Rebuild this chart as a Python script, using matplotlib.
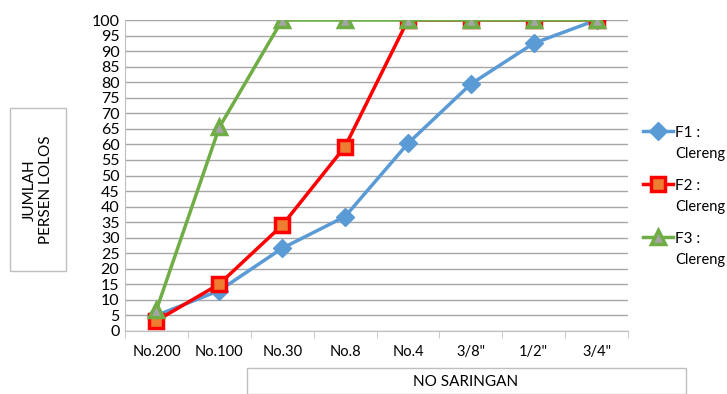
import matplotlib
matplotlib.use("Agg")
import matplotlib.pyplot as plt
from matplotlib.patches import Rectangle

# nomor saringan dan persen lolos tiap campuran
saringan = ["No.200", "No.100", "No.30", "No.8", "No.4", '3/8"', '1/2"', '3/4"']
f1 = [5, 13, 26.6, 36.8, 60.3, 79.4, 92.5, 100]
f2 = [3.3, 15.1, 34, 59.3, 100, 100, 100, 100]
f3 = [6.8, 65.5, 100, 100, 100, 100, 100, 100]
label_seri = ["F1 :", "F2 :", "F3 :"]
nama_seri = "Clereng"
yticks = list(range(0, 101, 5))

plt.rcParams["font.family"] = ["Lato", "DejaVu Sans"]

fig = plt.figure(figsize=(7.27, 3.94), dpi=100)
ax = fig.add_axes([125 / 727, 1 - 331 / 394, 503 / 727, 311 / 394])

x = list(range(len(saringan)))
ax.plot(x, f1, color="#5b9bd5", lw=2.5, marker="D", ms=9,
        mfc="#5b9bd5", mec="#5b9bd5", label=label_seri[0], zorder=3)
ax.plot(x, f2, color="#ff0000", lw=2.5, marker="s", ms=10, mew=2.5,
        mfc="#ed7d31", mec="#ff0000", label=label_seri[1], zorder=4)
ax.plot(x, f3, color="#70ad47", lw=2.5, marker="^", ms=10, mew=2.5,
        mfc="#a5a5a5", mec="#70ad47", label=label_seri[2], zorder=5)

ax.set_xlim(-0.5, len(saringan) - 0.5)
ax.set_ylim(0, 100)
ax.set_yticks(yticks)
ax.tick_params(axis="y", length=0, labelsize=11.5, pad=4)
ax.set_xticks(x)
ax.set_xticklabels(saringan)
ax.tick_params(axis="x", length=0, labelsize=10.5, pad=10)
ax.set_xticks([i - 0.5 for i in range(len(saringan) + 1)], minor=True)
ax.tick_params(axis="x", which="minor", length=5, color="#bfbfbf")
ax.grid(axis="y", color="#a6a6a6", lw=1)
ax.set_axisbelow(True)
for s in ("top", "right"):
    ax.spines[s].set_visible(False)
ax.spines["left"].set_color("#bfbfbf")
ax.spines["bottom"].set_color("#bfbfbf")

leg = ax.legend(loc="upper left", bbox_to_anchor=(635 / 727, 1 - 118 / 394),
                bbox_transform=fig.transFigure, frameon=False, fontsize=11,
                handlelength=2.0, handletextpad=0.15, labelspacing=2.55,
                borderpad=0)
fig.canvas.draw()
# baris kedua nama campuran di bawah tiap label legenda
for t in leg.get_texts():
    bb = t.get_window_extent()
    fig.text(bb.x0 / 727, (bb.y0 - 7) / 394, nama_seri,
             ha="left", va="top", fontsize=10.5)

# kotak judul sumbu
fig.patches.append(Rectangle((10 / 727, 1 - 271 / 394), 56 / 727, 163 / 394,
                             transform=fig.transFigure, fill=False,
                             ec="#bfbfbf", lw=1))
fig.text(38 / 727, 1 - 190 / 394, "JUMLAH\nPERSEN LOLOS", rotation=90,
         ha="center", va="center", fontsize=11, linespacing=1.2)
fig.patches.append(Rectangle((247 / 727, 0), 439 / 727, 26 / 394,
                             transform=fig.transFigure, fill=False,
                             ec="#bfbfbf", lw=1))
fig.text(466 / 727, 12 / 394, "NO SARINGAN", ha="center", va="center",
         fontsize=11)

fig.savefig("out.png", dpi=100)
